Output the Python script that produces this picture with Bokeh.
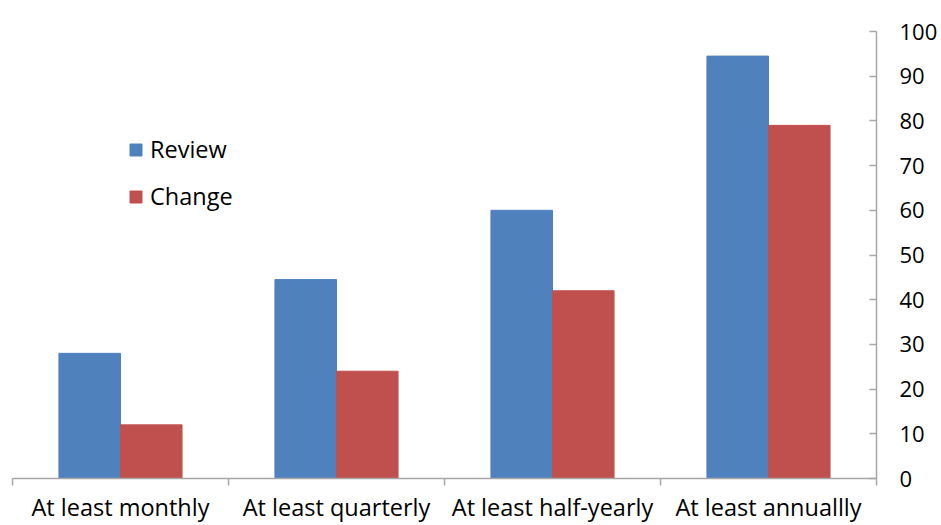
from bokeh.plotting import figure
from bokeh.models import (ColumnDataSource, FixedTicker, LinearAxis, Range1d,
                          Legend, LegendItem)
from bokeh.embed import file_html
from bokeh.resources import INLINE

# Share of respondents (%) reviewing / changing, by frequency
categories = ["At least monthly", "At least quarterly", "At least half-yearly", "At least annuallly"]
review = [28, 44.5, 60, 94.5]
change = [12, 24, 42, 79]
y_ticks = [0, 10, 20, 30, 40, 50, 60, 70, 80, 90, 100]

BLUE = "#4F81BD"
RED = "#C0504D"
AXIS = "#A6A6A6"
FONT = "Open Sans"

n = len(categories)
centers = [i + 0.5 for i in range(n)]
bar_w = 0.285

src = ColumnDataSource(dict(
    xr=[c - bar_w / 2 for c in centers],
    xc=[c + bar_w / 2 for c in centers],
    review=review,
    change=change,
))

p = figure(width=941, height=525, output_backend="svg", toolbar_location=None,
           x_range=Range1d(0, n), y_range=Range1d(0, 100),
           x_axis_location=None, y_axis_location=None,
           min_border_left=12, min_border_right=65,
           min_border_top=31, min_border_bottom=46)
p.outline_line_color = None
p.grid.visible = False
p.background_fill_color = "white"
p.border_fill_color = "white"

r_review = p.vbar(x="xr", top="review", width=bar_w, source=src,
                  fill_color=BLUE, line_color=BLUE)
r_change = p.vbar(x="xc", top="change", width=bar_w, source=src,
                  fill_color=RED, line_color=RED)

# Bottom category axis: labels centred in each slot, tick marks at slot boundaries
xaxis = LinearAxis(ticker=FixedTicker(ticks=centers, minor_ticks=list(range(n + 1))))
xaxis.major_label_overrides = {c: lab for c, lab in zip(centers, categories)}
xaxis.major_tick_out = 0
xaxis.major_tick_in = 0
xaxis.minor_tick_out = 7
xaxis.minor_tick_in = 0
xaxis.axis_line_color = AXIS
xaxis.axis_line_width = 1.5
xaxis.minor_tick_line_color = AXIS
xaxis.minor_tick_line_width = 1.5
xaxis.major_label_text_font = FONT
xaxis.major_label_text_font_size = "23.5px"
xaxis.major_label_text_color = "#000000"
xaxis.major_label_standoff = 5
p.add_layout(xaxis, "below")

# Right value axis
yaxis = LinearAxis(ticker=FixedTicker(ticks=y_ticks))
yaxis.major_tick_in = 7
yaxis.major_tick_out = 0
yaxis.minor_tick_line_color = None
yaxis.axis_line_color = AXIS
yaxis.axis_line_width = 1.5
yaxis.major_tick_line_color = AXIS
yaxis.major_tick_line_width = 1.5
yaxis.major_label_text_font = FONT
yaxis.major_label_text_font_size = "22px"
yaxis.major_label_text_color = "#000000"
yaxis.major_label_standoff = 23
p.add_layout(yaxis, "right")

legend = Legend(items=[LegendItem(label="Review", renderers=[r_review]),
                       LegendItem(label="Change", renderers=[r_change])],
                location=(116, 266), orientation="vertical",
                glyph_width=15, glyph_height=15, label_standoff=7,
                spacing=15, padding=0, margin=0,
                border_line_alpha=0, background_fill_alpha=0,
                label_text_font=FONT, label_text_font_size="23.5px",
                label_text_color="#000000")
p.add_layout(legend)

open("out.html", "w").write(file_html(p, INLINE))
